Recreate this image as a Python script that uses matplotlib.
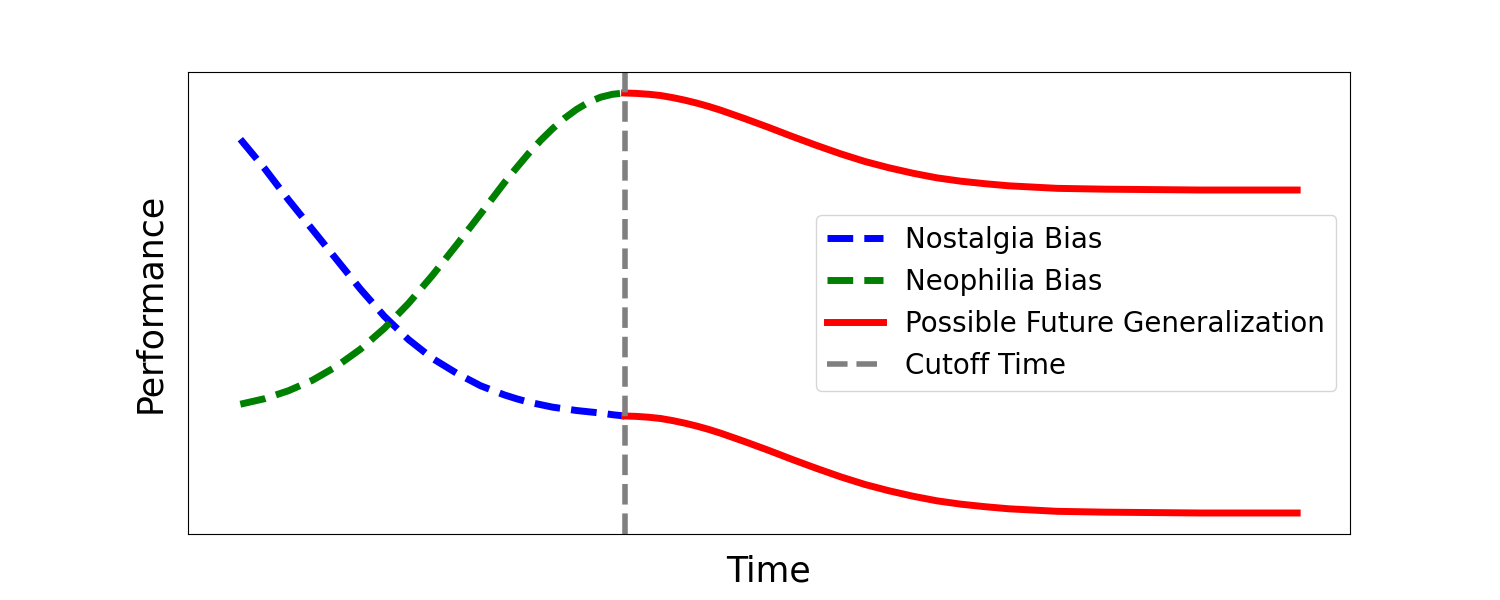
import matplotlib
matplotlib.use("Agg")
import matplotlib.pyplot as plt

# Time before the cutoff (0..4) and after it (4..11)
x_past = [0.0, 0.25, 0.5, 0.75, 1.0, 1.25, 1.5, 1.75, 2.0, 2.25, 2.5, 2.75,
          2.875, 3.0, 3.125, 3.25, 3.375, 3.5, 3.625, 3.75, 3.875, 4.0]
nostalgia = [0.890, 0.821, 0.746, 0.675, 0.604, 0.533, 0.468, 0.413, 0.368,
             0.333, 0.303, 0.281, 0.272, 0.264, 0.258, 0.252, 0.248, 0.244,
             0.241, 0.238, 0.234, 0.231]
neophilia = [0.259, 0.272, 0.291, 0.316, 0.349, 0.390, 0.440, 0.499, 0.566,
             0.638, 0.712, 0.787, 0.822, 0.856, 0.887, 0.915, 0.940, 0.961,
             0.978, 0.990, 0.997, 1.000]

x_future = [4.0, 4.125, 4.25, 4.375, 4.5, 4.625, 4.75, 4.875, 5.0, 5.25, 5.5,
            5.75, 6.0, 6.25, 6.5, 6.75, 7.0, 7.25, 7.5, 7.75, 8.0, 8.5, 9.0,
            10.0, 11.0]
future_high = [1.000, 0.999, 0.997, 0.994, 0.989, 0.983, 0.976, 0.968, 0.959,
               0.939, 0.918, 0.896, 0.875, 0.855, 0.837, 0.822, 0.809, 0.798,
               0.790, 0.784, 0.779, 0.773, 0.771, 0.769, 0.769]
future_low = [0.231, 0.230, 0.228, 0.225, 0.220, 0.214, 0.207, 0.199, 0.190,
              0.170, 0.149, 0.127, 0.106, 0.086, 0.068, 0.053, 0.040, 0.029,
              0.021, 0.015, 0.010, 0.004, 0.002, 0.000, 0.000]

cutoff = 4.0

fig, ax = plt.subplots(figsize=(15, 6), dpi=100)
ax.plot(x_past, nostalgia, color="blue", linestyle="--", linewidth=5,
        label="Nostalgia Bias")
ax.plot(x_past, neophilia, color="green", linestyle="--", linewidth=5,
        label="Neophilia Bias")
ax.plot(x_future, future_high, color="red", linewidth=5,
        label="Possible Future Generalization")
ax.plot(x_future, future_low, color="red", linewidth=5)
ax.axvline(cutoff, color="gray", linestyle="--", linewidth=4, label="Cutoff Time")

ax.set_xticks([])
ax.set_yticks([])
ax.set_xlabel("Time", fontsize=25, labelpad=15)
ax.set_ylabel("Performance", fontsize=25, labelpad=15)
ax.legend(loc="center right", fontsize=20)

fig.savefig("out.png", dpi=100)
